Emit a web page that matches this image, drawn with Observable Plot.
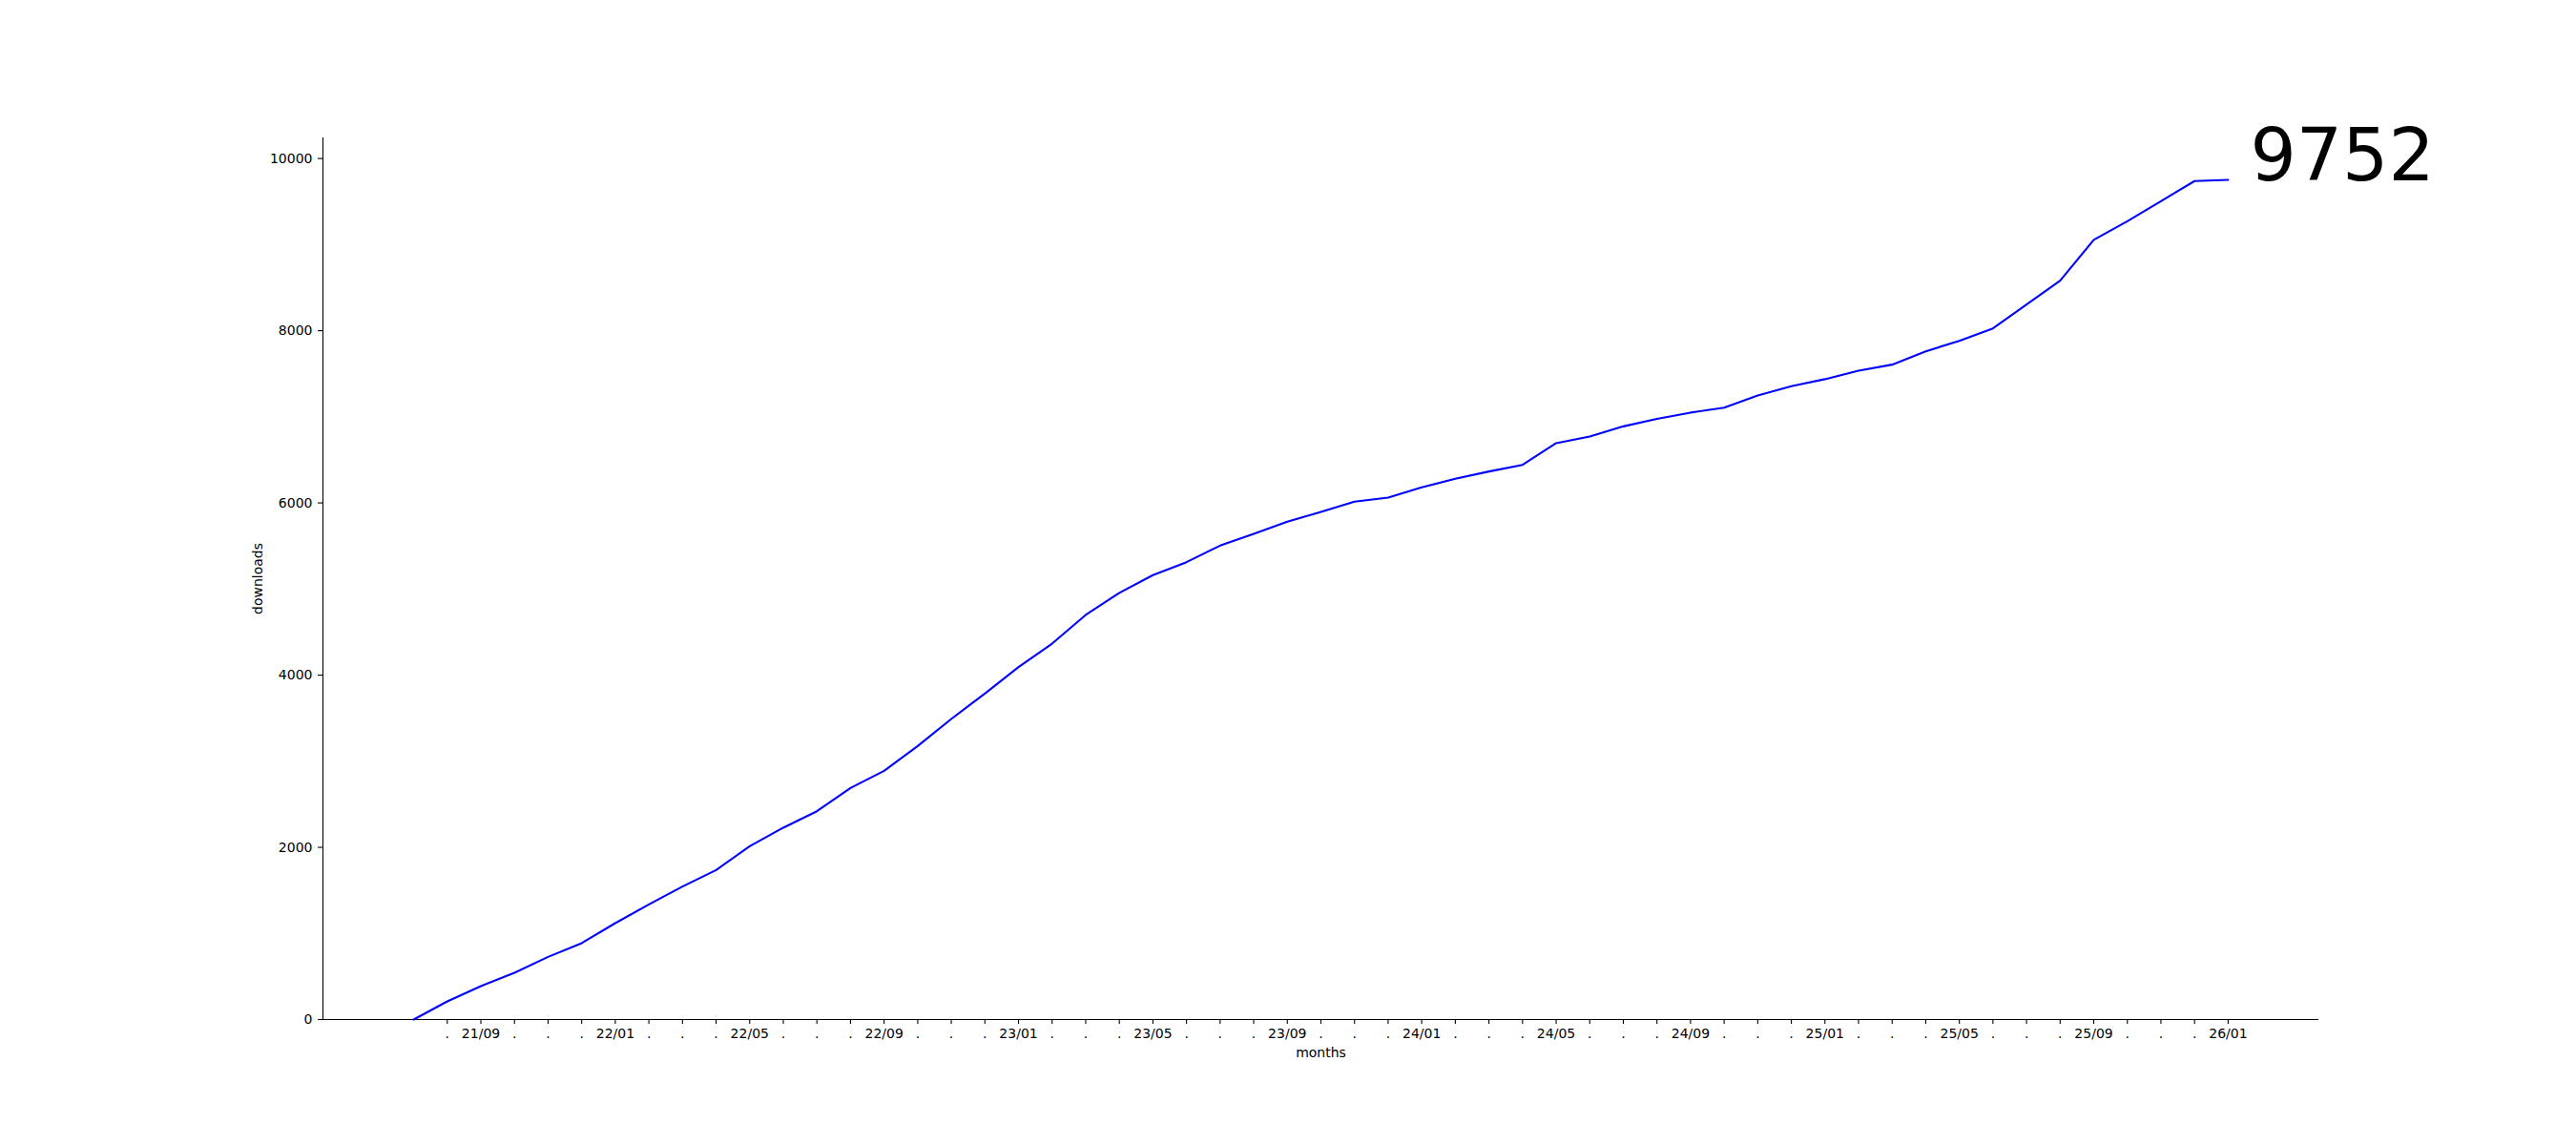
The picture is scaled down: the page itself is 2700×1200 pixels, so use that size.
<!DOCTYPE html>
<html>
<head>
<meta charset="utf-8">
<script src="https://cdn.jsdelivr.net/npm/d3@7"></script>
<script src="https://cdn.jsdelivr.net/npm/@observablehq/plot@0.6"></script>
<style>
  html, body { margin: 0; padding: 0; background: #ffffff; }
  svg { display: block; }
</style>
</head>
<body>
<script>
const months = [
  "21/07","21/08","21/09","21/10","21/11","21/12",
  "22/01","22/02","22/03","22/04","22/05","22/06","22/07","22/08","22/09","22/10","22/11","22/12",
  "23/01","23/02","23/03","23/04","23/05","23/06","23/07","23/08","23/09","23/10","23/11","23/12",
  "24/01","24/02","24/03","24/04","24/05","24/06","24/07","24/08","24/09","24/10","24/11","24/12",
  "25/01","25/02","25/03","25/04","25/05","25/06","25/07","25/08","25/09","25/10","25/11","25/12",
  "26/01"
];
const downloads = [
  0, 211, 388, 543, 727, 887,
  1119, 1337, 1544, 1736, 2013, 2228, 2419, 2689, 2888, 3177, 3491, 3786,
  4093, 4366, 4699, 4955, 5161, 5312, 5504, 5641, 5781, 5896, 6014, 6062,
  6180, 6280, 6365, 6442, 6694, 6772, 6889, 6975, 7049, 7107, 7248, 7355,
  7437, 7536, 7606, 7761, 7883, 8027, 8304, 8581, 9055, 9272, 9505, 9738,
  9752
];
const labeledMonths = ["21/09","22/01","22/05","22/09","23/01","23/05","23/09","24/01","24/05","24/09","25/01","25/05","25/09","26/01"];
const yTicks = [0, 2000, 4000, 6000, 8000, 10000];
const finalLabel = "9752";

const data = months.map((m, i) => ({i, month: m, value: downloads[i]}));
const n = months.length;
const xDomain = [-0.05 * (n - 1), (n - 1) * 1.05];
const yDomain = [0, d3.max(downloads) * 1.05];
const xTicks = d3.range(1, n);
const last = data[n - 1];

const chart = Plot.plot({
  width: 2700,
  height: 1200,
  marginLeft: 338,
  marginRight: 270,
  marginTop: 144,
  marginBottom: 132,
  style: {fontFamily: "DejaVu Sans", fontSize: "14px", color: "#000", background: "#fff"},
  x: {type: "linear", domain: xDomain},
  y: {type: "linear", domain: yDomain},
  marks: [
    Plot.axisX(xTicks, {
      tickSize: 5, tickPadding: 5, strokeWidth: 1.1,
      tickFormat: i => labeledMonths.includes(months[i]) ? months[i] : ".",
      label: null, fontSize: 14
    }),
    Plot.axisY(yTicks, {
      tickSize: 5, tickPadding: 6, strokeWidth: 1.1,
      tickFormat: d3.format("d"), label: null, fontSize: 14
    }),
    Plot.ruleY([0], {stroke: "#000", strokeWidth: 1.1}),
    Plot.ruleX([xDomain[0]], {stroke: "#000", strokeWidth: 1.1}),
    Plot.lineY(data, {x: "i", y: "value", stroke: "#0000ff", strokeWidth: 2.1}),
    Plot.text([last], {x: "i", y: "value", text: () => finalLabel, fontSize: 76,
      textAnchor: "start", lineAnchor: "bottom", dx: 23, fill: "#000"}),
    Plot.text(["months"], {frameAnchor: "bottom", dy: 35, textAnchor: "middle", lineAnchor: "middle", fontSize: 14, fill: "#000"}),
    Plot.text(["downloads"], {frameAnchor: "left", dx: -68, rotate: -90, textAnchor: "middle", lineAnchor: "middle", fontSize: 14, fill: "#000"})
  ]
});
document.body.appendChild(chart);
</script>
</body>
</html>
